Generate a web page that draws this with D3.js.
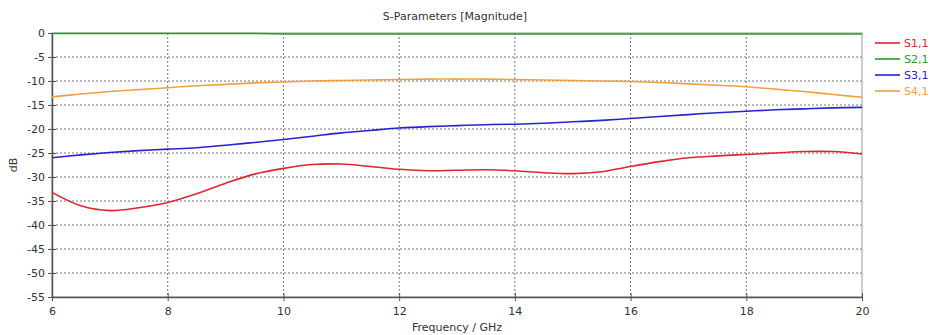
<!DOCTYPE html>
<html>
<head>
<meta charset="utf-8">
<script src="https://cdn.jsdelivr.net/npm/d3@7"></script>
<style>
  body { margin: 0; background: #fff; }
  text { font-family: "DejaVu Sans", Verdana, sans-serif; fill: #333; }
</style>
</head>
<body>
<svg id="chart" width="930" height="335"></svg>
<script>
// frequency samples (GHz)
var freq = [6, 6.5, 7, 7.5, 8, 8.5, 9, 9.5, 10, 10.5, 11, 11.5, 12, 12.5, 13, 13.5, 14, 14.5, 15, 15.5, 16, 16.5, 17, 17.5, 18, 18.5, 19, 19.5, 20];

var s11 = [-33.2, -36.0, -37.0, -36.4, -35.3, -33.5, -31.3, -29.4, -28.2, -27.4, -27.3, -27.8, -28.4, -28.7, -28.6, -28.5, -28.7, -29.1, -29.3, -28.9, -27.8, -26.8, -26.0, -25.6, -25.3, -25.0, -24.7, -24.7, -25.2];
var s21 = [-0.1, -0.1, -0.1, -0.1, -0.1, -0.1, -0.1, -0.1, -0.2, -0.2, -0.2, -0.2, -0.2, -0.2, -0.2, -0.2, -0.2, -0.2, -0.2, -0.2, -0.2, -0.2, -0.2, -0.2, -0.2, -0.2, -0.2, -0.2, -0.2];
var s31 = [-26.0, -25.4, -24.9, -24.5, -24.2, -23.9, -23.4, -22.8, -22.2, -21.5, -20.8, -20.3, -19.8, -19.5, -19.3, -19.1, -19.0, -18.8, -18.5, -18.2, -17.8, -17.4, -17.0, -16.6, -16.3, -16.0, -15.8, -15.6, -15.5];
var s41 = [-13.3, -12.7, -12.2, -11.8, -11.4, -11.0, -10.7, -10.4, -10.2, -10.0, -9.9, -9.8, -9.7, -9.6, -9.6, -9.6, -9.7, -9.8, -9.9, -10.0, -10.1, -10.3, -10.6, -10.9, -11.2, -11.7, -12.2, -12.8, -13.4];

var seriesNames = ["S1,1", "S2,1", "S3,1", "S4,1"];
var seriesColors = ["#e02430", "#1fa01f", "#2424d0", "#f0a040"];
var seriesValues = [s11, s21, s31, s41];

var xTicks = [6, 8, 10, 12, 14, 16, 18, 20];
var yTicks = [0, -5, -10, -15, -20, -25, -30, -35, -40, -45, -50, -55];

var svg = d3.select("#chart");
var plotLeft = 52, plotRight = 862, plotTop = 33, plotBottom = 297;

var x = d3.scaleLinear().domain([6, 20]).range([plotLeft, plotRight]);
var y = d3.scaleLinear().domain([-55, 0]).range([plotBottom, plotTop]);

// grid
svg.append("g")
  .selectAll("line")
  .data(yTicks.slice(1, -1))
  .enter()
  .append("line")
  .attr("x1", plotLeft).attr("x2", plotRight)
  .attr("y1", function (d) { return y(d); })
  .attr("y2", function (d) { return y(d); })
  .attr("stroke", "#777")
  .attr("stroke-width", 1)
  .attr("stroke-dasharray", "2,2");

svg.append("g")
  .selectAll("line")
  .data(xTicks.slice(1, -1))
  .enter()
  .append("line")
  .attr("y1", plotTop).attr("y2", plotBottom)
  .attr("x1", function (d) { return x(d); })
  .attr("x2", function (d) { return x(d); })
  .attr("stroke", "#777")
  .attr("stroke-width", 1)
  .attr("stroke-dasharray", "2,2");

// frame
svg.append("rect")
  .attr("x", plotLeft).attr("y", plotTop)
  .attr("width", plotRight - plotLeft).attr("height", plotBottom - plotTop)
  .attr("fill", "none")
  .attr("stroke", "#999");

// axes
var xAxis = svg.append("g")
  .attr("transform", "translate(0," + plotBottom + ")")
  .call(d3.axisBottom(x).tickValues(xTicks).tickSize(5).tickSizeOuter(0).tickFormat(d3.format("d")));
var yAxis = svg.append("g")
  .attr("transform", "translate(" + plotLeft + ",0)")
  .call(d3.axisLeft(y).tickValues(yTicks).tickSize(5).tickSizeOuter(0).tickFormat(function (d) { return d === 0 ? "0" : "-" + Math.abs(d); }));

[xAxis, yAxis].forEach(function (a) {
  a.select(".domain").attr("stroke", "#555").attr("stroke-width", 1.5);
  a.selectAll(".tick line").attr("stroke", "#555");
  a.selectAll(".tick text").attr("font-size", 11).attr("fill", "#333")
    .attr("font-family", "DejaVu Sans, Verdana, sans-serif");
});
xAxis.selectAll(".tick line").attr("y1", -4).attr("y2", 4);
xAxis.selectAll(".tick text").attr("y", 10);
yAxis.selectAll(".tick line").attr("x1", 4).attr("x2", -4);
yAxis.selectAll(".tick text").attr("x", -7);

// curves
var line = d3.line()
  .x(function (d) { return x(d[0]); })
  .y(function (d) { return y(d[1]); })
  .curve(d3.curveCatmullRom);

svg.append("g")
  .selectAll("path")
  .data(seriesValues)
  .enter()
  .append("path")
  .attr("d", function (vals) {
    return line(freq.map(function (f, i) { return [f, vals[i]]; }));
  })
  .attr("fill", "none")
  .attr("stroke", function (d, i) { return seriesColors[i]; })
  .attr("stroke-width", 1.6);

// legend
var legend = svg.append("g")
  .selectAll("g")
  .data(seriesNames)
  .enter()
  .append("g")
  .attr("transform", function (d, i) { return "translate(875," + (43 + i * 16) + ")"; });
legend.append("line")
  .attr("x1", 0).attr("x2", 25)
  .attr("stroke", function (d, i) { return seriesColors[i]; })
  .attr("stroke-width", 1.6);
legend.append("text")
  .attr("x", 29).attr("dy", "0.35em")
  .attr("font-size", 11)
  .style("fill", function (d, i) { return seriesColors[i]; })
  .text(function (d) { return d; });

// titles
svg.append("text")
  .attr("x", 455).attr("y", 20)
  .attr("text-anchor", "middle")
  .attr("font-size", 11)
  .text("S-Parameters [Magnitude]");

svg.append("text")
  .attr("x", 457).attr("y", 331)
  .attr("text-anchor", "middle")
  .attr("font-size", 11)
  .text("Frequency / GHz");

svg.append("text")
  .attr("transform", "translate(17,165) rotate(-90)")
  .attr("text-anchor", "middle")
  .attr("font-size", 11)
  .text("dB");
</script>
</body>
</html>
